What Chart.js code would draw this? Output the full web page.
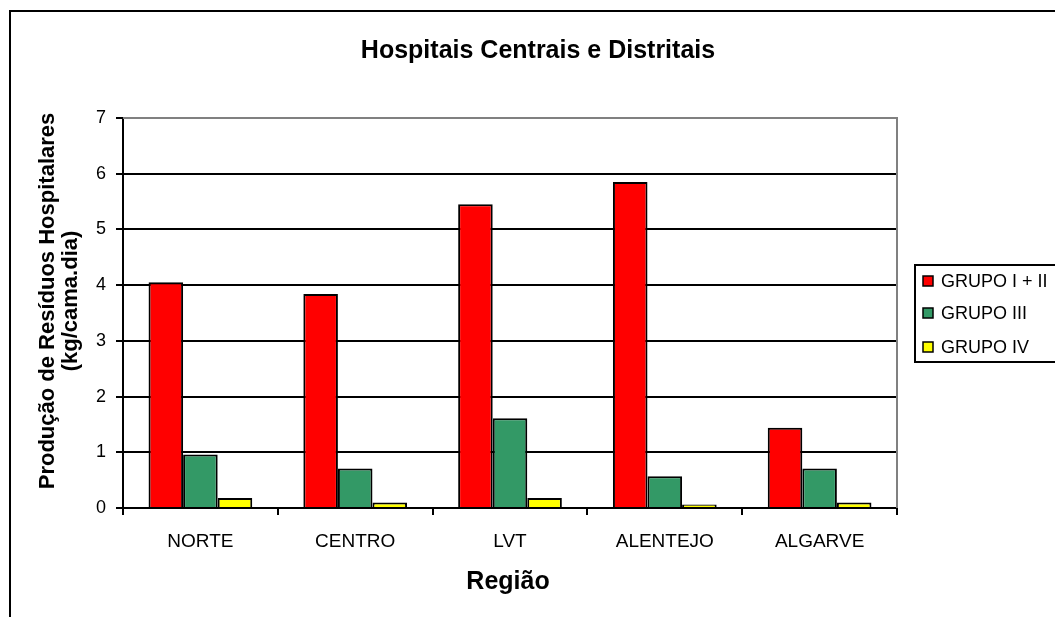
<!DOCTYPE html>
<html>
<head>
<meta charset="utf-8">
<script src="https://cdn.jsdelivr.net/npm/chart.js@4.4.1/dist/chart.umd.min.js"></script>
<style>
  html, body { margin: 0; padding: 0; background: #fff; overflow: hidden; }
  #wrap { position: relative; width: 1055px; height: 617px; }
  #frame { position: absolute; left: 9px; top: 10px; width: 2000px; height: 2000px; border: 2px solid #000; box-sizing: border-box; }
  canvas { position: absolute; left: 0; top: 0; }
</style>
</head>
<body>
<div id="wrap">
  <div id="frame"></div>
  <canvas id="c" width="1055" height="617"></canvas>
</div>
<script>
const categories = ['NORTE', 'CENTRO', 'LVT', 'ALENTEJO', 'ALGARVE'];
const seriesNames = ['GRUPO I + II', 'GRUPO III', 'GRUPO IV'];
const grupoI_II = [4.05, 3.84, 5.45, 5.85, 1.44];
const grupoIII = [0.96, 0.71, 1.61, 0.57, 0.71];
const grupoIV = [0.18, 0.10, 0.18, 0.065, 0.10];
const yTicks = [0, 1, 2, 3, 4, 5, 6, 7];
const chartTitle = 'Hospitais Centrais e Distritais';
const yTitleLines = ['Produção de Resíduos Hospitalares', '(kg/cama.dia)'];
const xTitle = 'Região';

const colors = ['#FF0000', '#339966', '#FFFF00'];
const FONT = '"Liberation Sans", Arial, sans-serif';

const framePlugin = {
  id: 'frame',
  beforeDatasetsDraw(chart) {
    const { ctx, chartArea: a } = chart;
    ctx.save();
    ctx.strokeStyle = '#808080';
    ctx.lineWidth = 2;
    ctx.beginPath();
    ctx.moveTo(a.left, a.top);
    ctx.lineTo(a.right, a.top);
    ctx.lineTo(a.right, a.bottom);
    ctx.stroke();
    ctx.restore();
  }
};

const textPlugin = {
  id: 'texts',
  afterDraw(chart) {
    const { ctx } = chart;
    ctx.save();
    ctx.fillStyle = '#000';
    ctx.textAlign = 'center';
    ctx.textBaseline = 'middle';
    // main title
    ctx.font = 'bold 25px ' + FONT;
    ctx.fillText(chartTitle, 538, 51);
    // x title
    ctx.font = 'bold 25px ' + FONT;
    ctx.fillText(xTitle, 508, 582);
    // y title
    ctx.font = 'bold 22px ' + FONT;
    ctx.translate(0, 301);
    ctx.rotate(-Math.PI / 2);
    ctx.fillText(yTitleLines[0], 0, 48);
    ctx.fillText(yTitleLines[1], 0, 71);
    ctx.restore();

    // legend
    ctx.save();
    const lx = 915, ly = 265, lw = 200, lh = 97;
    ctx.strokeStyle = '#000';
    ctx.lineWidth = 2;
    ctx.fillStyle = '#fff';
    ctx.fillRect(lx, ly, lw, lh);
    ctx.strokeRect(lx, ly, lw, lh);
    const rows = [281, 313, 347];
    ctx.font = '18px ' + FONT;
    ctx.textAlign = 'left';
    ctx.textBaseline = 'middle';
    chart.data.datasets.forEach((ds, i) => {
      const y = rows[i];
      ctx.fillStyle = ds.backgroundColor;
      ctx.fillRect(923, y - 5, 10, 10);
      ctx.strokeStyle = '#000';
      ctx.lineWidth = 1.5;
      ctx.strokeRect(923, y - 5, 10, 10);
      ctx.fillStyle = '#000';
      ctx.fillText(ds.label, 941, y + 1);
    });
    ctx.restore();
  }
};

new Chart(document.getElementById('c'), {
  type: 'bar',
  data: {
    labels: categories,
    datasets: [
      { label: seriesNames[0], data: grupoI_II, backgroundColor: colors[0] },
      { label: seriesNames[1], data: grupoIII, backgroundColor: colors[1] },
      { label: seriesNames[2], data: grupoIV, backgroundColor: colors[2] }
    ].map(d => Object.assign(d, { borderColor: '#000', borderWidth: 2, categoryPercentage: 0.67, barPercentage: 1.0 }))
  },
  options: {
    responsive: false,
    animation: false,
    devicePixelRatio: 1,
    layout: { padding: { left: 0, top: 118, right: 158, bottom: 69 } },
    plugins: { legend: { display: false }, title: { display: false }, tooltip: { enabled: false } },
    scales: {
      x: {
        offset: true,
        grid: { offset: true, drawOnChartArea: false, drawTicks: true, tickLength: 7, color: '#000', lineWidth: 2 },
        border: { color: '#000', width: 2 },
        ticks: { color: '#000', font: { family: FONT, size: 19 }, padding: 15, maxRotation: 0 },
        afterFit(s) { s.height = 40; }
      },
      y: {
        min: 0, max: 7,
        afterBuildTicks(s) { s.ticks = yTicks.map(v => ({ value: v })); },
        grid: { color: '#000', lineWidth: 2, drawTicks: true, tickLength: 7 },
        border: { color: '#000', width: 2 },
        ticks: { color: '#000', font: { family: FONT, size: 18 }, padding: 10 },
        afterFit(s) { s.width = 123; }
      }
    }
  },
  plugins: [framePlugin, textPlugin]
});
</script>
</body>
</html>
